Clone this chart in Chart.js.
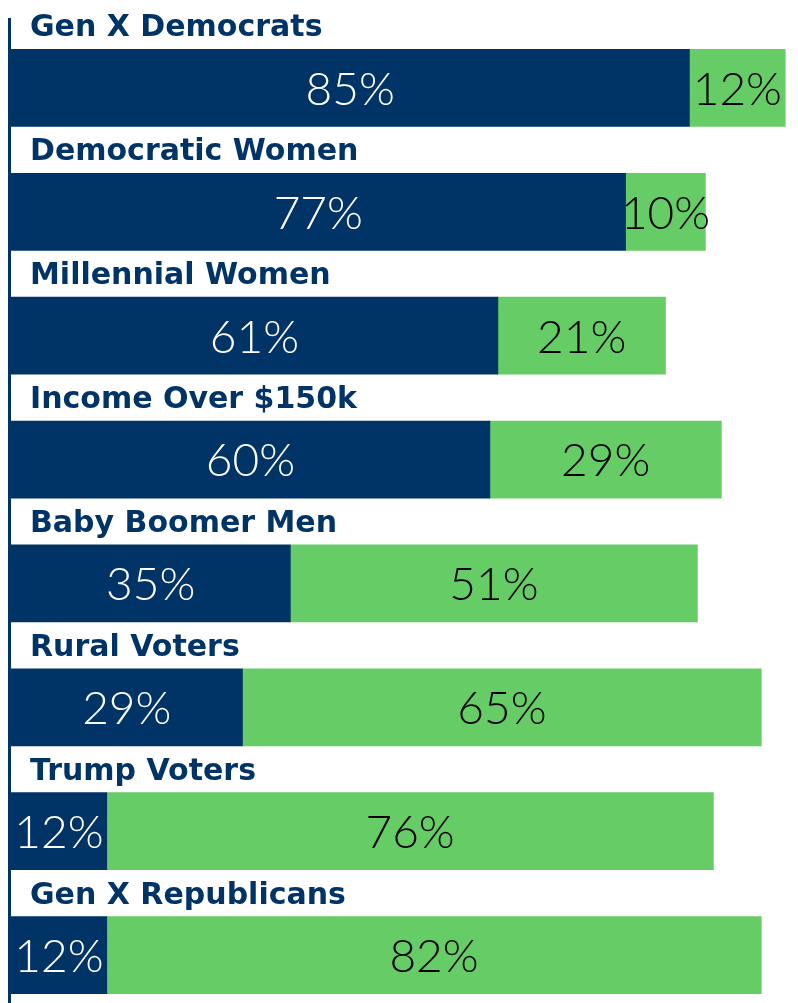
<!DOCTYPE html>
<html>
<head>
<meta charset="utf-8">
<script src="https://cdn.jsdelivr.net/npm/chart.js@4"></script>
<style>
  html, body { margin: 0; padding: 0; background: #fff; overflow: hidden; }
  #wrap { width: 798px; height: 1017px; position: relative; }
</style>
</head>
<body>
<div id="wrap"><canvas id="chart"></canvas></div>
<script>
// ─── Data ─────────────────────────────────────────────────
const categories = ['Gen X Democrats', 'Democratic Women', 'Millennial Women', 'Income Over $150k',
  'Baby Boomer Men', 'Rural Voters', 'Trump Voters', 'Gen X Republicans'];
const navyValues = [85, 77, 61, 60, 35, 29, 12, 12];
const greenValues = [12, 10, 21, 29, 51, 65, 76, 82];

const NAVY = '#003366';
const GREEN = '#66cc66';

// category name above each bar + value inside each segment
const labelPlugin = {
  id: 'labels',
  afterDatasetsDraw(chart) {
    const { ctx, chartArea } = chart;
    ctx.save();

    // left axis line
    ctx.fillStyle = NAVY;
    ctx.fillRect(chartArea.left - 3, chartArea.top - 8, 3, chartArea.bottom - chartArea.top + 8);

    const first = chart.getDatasetMeta(0);
    first.data.forEach((bar, i) => {
      const top = bar.y - bar.height / 2;
      ctx.font = 'bold 30px "DejaVu Sans", sans-serif';
      ctx.fillStyle = NAVY;
      ctx.textAlign = 'left';
      ctx.textBaseline = 'alphabetic';
      ctx.fillText(categories[i], chartArea.left + 19, top - 13);
    });

    chart.data.datasets.forEach((ds, d) => {
      const meta = chart.getDatasetMeta(d);
      meta.data.forEach((bar, i) => {
        const x0 = Math.min(bar.base, bar.x), x1 = Math.max(bar.base, bar.x);
        ctx.font = '300 46px Lato, sans-serif';
        ctx.fillStyle = d === 0 ? '#ffffff' : '#000000';
        ctx.textAlign = 'center';
        ctx.textBaseline = 'middle';
        ctx.fillText(ds.data[i] + '%', (x0 + x1) / 2, bar.y + 2);
      });
    });
    ctx.restore();
  }
};

new Chart(document.getElementById('chart'), {
  type: 'bar',
  data: {
    labels: categories,
    datasets: [
      { label: 'Navy', data: navyValues, backgroundColor: NAVY, barThickness: 77, borderWidth: 0 },
      { label: 'Green', data: greenValues, backgroundColor: GREEN, barThickness: 77, borderWidth: 0 }
    ]
  },
  options: {
    indexAxis: 'y',
    responsive: true,
    maintainAspectRatio: false,
    animation: false,
    devicePixelRatio: 1,
    layout: { padding: { top: 26, left: 11, right: 0, bottom: 0 } },
    plugins: { legend: { display: false }, tooltip: { enabled: false } },
    scales: {
      x: { stacked: true, min: 0, max: 98.6, display: false },
      y: { stacked: true, display: false }
    }
  },
  plugins: [labelPlugin]
});
</script>
</body>
</html>
